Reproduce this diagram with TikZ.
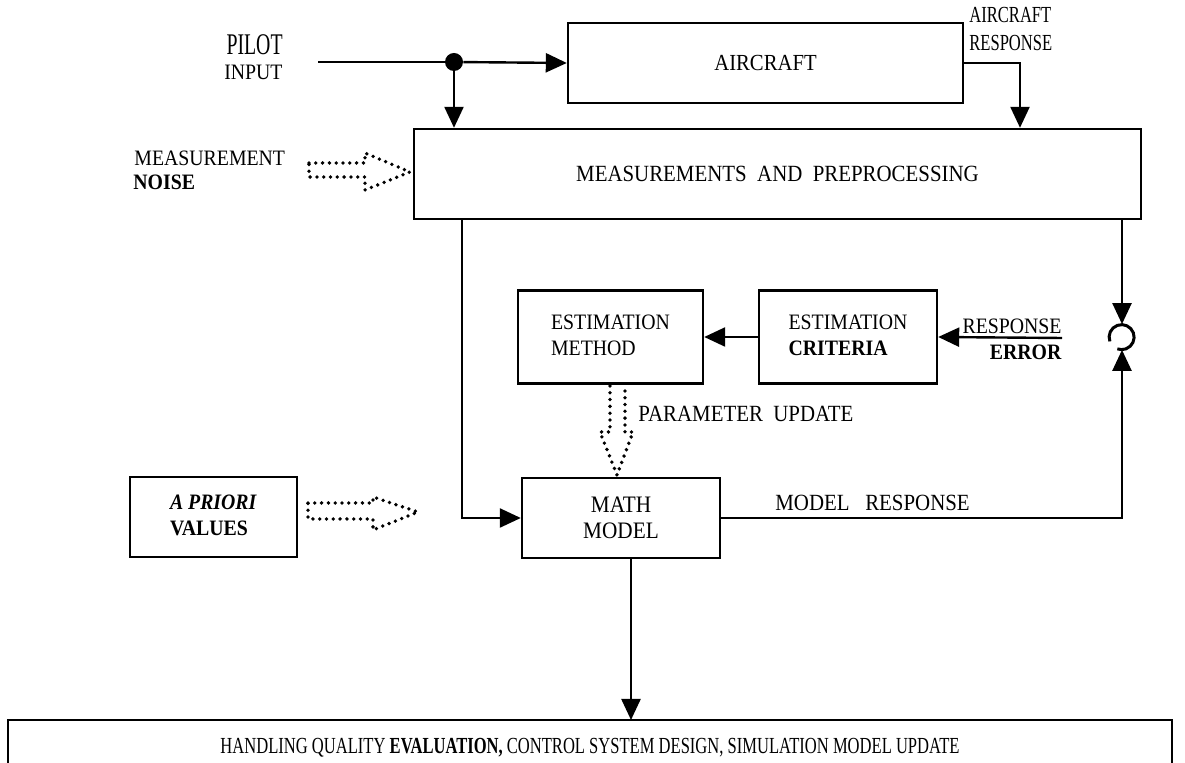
\documentclass[tikz,border=0pt]{standalone}
\usepackage{fontspec}
\setmainfont{Liberation Serif}[FakeStretch=0.9]
\newfontfamily\narrowfont{Liberation Serif}[FakeStretch=0.72]
\newfontfamily\pilotfont{Liberation Serif}[FakeStretch=0.66]
\usetikzlibrary{arrows.meta}
\begin{document}
\begin{tikzpicture}[x=0.5pt,y=-0.5pt,
  box/.style={draw, line width=1.2pt, inner sep=0pt, font=\fontsize{11}{13}\selectfont, align=center},
  lbl/.style={inner sep=0pt, font=\fontsize{11}{13}\selectfont, align=left},
  biglbl/.style={lbl, font=\fontsize{11.6}{13.5}\selectfont},
  smalllbl/.style={lbl, font=\narrowfont\fontsize{11.5}{13}\selectfont},
  conn/.style={line width=1.2pt, -{Triangle[length=10.5pt,width=9.5pt]}},
  plain/.style={line width=1.2pt},
  hollow/.style={line width=1.9pt, line cap=round, line join=round, dash pattern=on 0pt off 3.4pt},
]
\useasboundingbox (0,0) rectangle (1185,763);

% boxes
\node[box, minimum width=197.5pt, minimum height=40pt] (aircraft) at (765.5,63) {\fontsize{11.5}{13}\selectfont AIRCRAFT};
\node[box, minimum width=363.5pt, minimum height=45pt] (mp) at (777.5,174) {\fontsize{11.6}{13}\selectfont MEASUREMENTS\ \ AND\ \ PREPROCESSING};
\node[box, minimum width=92.5pt, minimum height=46.5pt] (method) at (610.5,337) {\begin{tabular}{@{}l@{}}ESTIMATION\\METHOD\end{tabular}};
\node[box, minimum width=89pt, minimum height=46.5pt] (criteria) at (848,337) {\begin{tabular}{@{}l@{}}ESTIMATION\\\textbf{CRITERIA}\end{tabular}};
\node[box, minimum width=99pt, minimum height=40pt, font=\fontsize{11.8}{13}\selectfont] (math) at (621,518) {MATH\\MODEL};
\node[box, minimum width=83.5pt, minimum height=40pt] (apriori) at (213.5,517) {\begin{tabular}{@{}l@{}}\textbf{\textit{A PRIORI}}\\\textbf{VALUES}\end{tabular}};

% junctions
\node[circle, fill, minimum size=9pt, inner sep=0pt] (dot) at (454,62) {};
\node[circle, minimum size=12.5pt, inner sep=0pt] (sj) at (1122,337) {};
\draw[line width=1.5pt] (sj.200) arc[start angle=200, end angle=-110, radius=6.25pt];

% labels
\node[lbl, font=\pilotfont\fontsize{15}{15}\selectfont, anchor=east] (pilot) at (283,45) {PILOT};
\node[lbl, anchor=east] (input) at (283,72) {INPUT};
\node[smalllbl, anchor=west] (acr1) at (969,15) {AIRCRAFT};
\node[smalllbl, anchor=west] (acr2) at (969,43) {RESPONSE};
\node[lbl, anchor=west] (mn1) at (134,158) {MEASUREMENT};
\node[lbl, anchor=west] (mn2) at (133,182) {\textbf{NOISE}};
\node[lbl, anchor=east] (re1) at (1062,326) {RESPONSE};
\node[lbl, anchor=east] (re2) at (1062,352) {\textbf{ERROR}};
\node[biglbl, anchor=west] (pu) at (638,414) {PARAMETER\ \ UPDATE};
\node[biglbl, anchor=west] (mr) at (775,503) {MODEL\ \ \ RESPONSE};
\node[smalllbl] (hq) at (590,748) {HANDLING QUALITY \textbf{EVALUATION,} CONTROL SYSTEM DESIGN, SIMULATION MODEL UPDATE};
\draw[plain] (8,775) -- (8,720) -- (1172,720) -- (1172,775);

% coordinates
\coordinate (pin) at (318,62);
\coordinate (arx) at (1020,0);
\coordinate (lx) at (462,0);
\coordinate (rx) at (1122,0);
\coordinate (ree) at (1062,338);
\coordinate (hqtop) at (631,720);

% connectors
\draw[plain] (pin) -- (dot);
\draw[conn] (dot) -- (aircraft.west);
\draw[conn] (dot) -- (dot |- mp.north);
\draw[conn] (aircraft.east) -| (arx |- mp.north);
\draw[conn] (lx |- mp.south) |- (math.west);
\draw[conn] (rx |- mp.south) -- (sj.north);
\draw[conn] (math.east) -| (sj.south);
\draw[conn] (ree) -- (criteria.east);
\draw[conn] (criteria.west) -- (method.east);
\draw[conn] (math.south -| hqtop) -- (hqtop);

% hollow dotted arrows
\draw[hollow] (309,163) -- (365,163) -- (365,153) -- (410,172) -- (365,190) -- (365,177) -- (309,177) -- cycle;
\draw[hollow] (308,503) -- (373,503) -- (373,497) -- (418,512) -- (373,530) -- (373,519) -- (308,519) -- cycle;
\draw[hollow] (610,386) -- (610,432) -- (600,432) -- (617,475) -- (633,432) -- (625,432) -- (625,386);
\end{tikzpicture}
\end{document}
